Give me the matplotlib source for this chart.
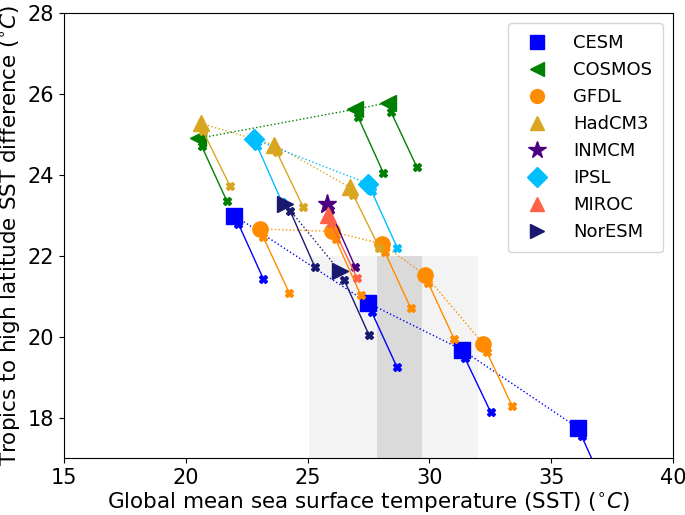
import numpy as np
import matplotlib
matplotlib.use('Agg')
import matplotlib.pyplot as plt
from matplotlib.lines import Line2D

models = ['CESM', 'COSMOS', 'GFDL', 'HadCM3', 'INMCM', 'IPSL', 'MIROC', 'NorESM']
colors = ['#0000ff', 'green', 'darkorange', 'goldenrod', 'indigo', 'deepskyblue', 'tomato', 'midnightblue']
markers = ['s', '<', 'o', '^', '*', 'D', '^', '>']

# big marker positions
mark_x = {
    'CESM': [22.0, 27.49, 31.32, 36.11],
    'COSMOS': [20.51, 26.95, 28.31],
    'GFDL': [23.05, 25.99, 28.04, 29.82, 32.21],
    'HadCM3': [20.62, 23.63, 26.74],
    'INMCM': [25.78],
    'IPSL': [22.80, 27.49],
    'MIROC': [25.85],
    'NorESM': [24.07, 26.33],
}
mark_y = {
    'CESM': [23.0, 20.84, 19.69, 17.75],
    'COSMOS': [24.91, 25.63, 25.79],
    'GFDL': [22.67, 22.61, 22.30, 21.54, 19.83],
    'HadCM3': [25.28, 24.75, 23.70],
    'INMCM': [23.29],
    'IPSL': [24.89, 23.79],
    'MIROC': [23.02],
    'NorESM': [23.29, 21.62],
}
# start of the solid segments
start_x = {
    'CESM': [22.16, 27.63, 31.46, 36.25],
    'COSMOS': [20.65, 27.08, 28.42],
    'GFDL': [23.18, 26.15, 28.18, 29.96, 32.35],
    'HadCM3': [20.70, 23.73, 26.88],
    'INMCM': [25.92],
    'IPSL': [22.94, 27.63],
    'MIROC': [25.95],
    'NorESM': [24.28, 26.51],
}
start_y = {
    'CESM': [22.80, 20.62, 19.48, 17.55],
    'COSMOS': [24.72, 25.43, 25.57],
    'GFDL': [22.47, 22.42, 22.09, 21.33, 19.64],
    'HadCM3': [25.10, 24.58, 23.51],
    'INMCM': [23.14],
    'IPSL': [24.71, 23.60],
    'MIROC': [22.83],
    'NorESM': [23.12, 21.40],
}
# end of the solid segments
end_x = {
    'CESM': [23.18, 28.66, 32.52, 37.27],
    'COSMOS': [21.68, 28.11, 29.48],
    'GFDL': [24.24, 27.18, 29.23, 31.01, 33.40],
    'HadCM3': [21.81, 24.82, 27.95],
    'INMCM': [26.95],
    'IPSL': [23.95, 28.68],
    'MIROC': [27.02],
    'NorESM': [25.30, 27.53],
}
end_y = {
    'CESM': [21.44, 19.27, 18.14, 16.19],
    'COSMOS': [23.37, 24.06, 24.21],
    'GFDL': [21.10, 21.04, 20.72, 19.96, 18.29],
    'HadCM3': [23.74, 23.21, 22.20],
    'INMCM': [21.74],
    'IPSL': [23.33, 22.21],
    'MIROC': [21.47],
    'NorESM': [21.73, 20.04],
}

fig = plt.figure(figsize=(6.85, 5.15), dpi=100)
ax = fig.add_axes([0.0934, 0.110, 0.889, 0.864])

# shaded ranges
ax.fill_between([25.05, 32.0], 15, 22, color='#f3f3f3', zorder=0, lw=0)
ax.fill_between([27.85, 29.7], 15, 22, color='#dadada', zorder=0, lw=0)

z = 2
for m, c, mk in zip(models, colors, markers):
    ms = 14 if mk == '*' else 11
    if mk == 'D':
        ms = 10
    ax.plot(mark_x[m], mark_y[m], ':', color=c, lw=1, zorder=1.5)
    ax.plot(mark_x[m], mark_y[m], linestyle='none', marker=mk, color=c, ms=ms, zorder=z)
    for i in range(len(start_x[m])):
        ax.plot([start_x[m][i], end_x[m][i]], [start_y[m][i], end_y[m][i]], '-', color=c,
                lw=1.0, marker='X', ms=6, zorder=z + 0.5)
    z += 1

ax.set_xlim(15, 40)
ax.set_ylim(17, 28)
ax.set_xticks([15, 20, 25, 30, 35, 40])
ax.set_yticks([18, 20, 22, 24, 26, 28])
ax.tick_params(labelsize=15)
ax.set_xlabel(r'Global mean sea surface temperature (SST) ($^{\circ}C$)', fontsize=15.5, labelpad=2)
ax.set_ylabel(r'Tropics to high latitude SST difference ($^{\circ}C$)', fontsize=15.5, labelpad=3)

handles = []
for m, c, mk in zip(models, colors, markers):
    ms = 13 if mk == '*' else 10
    handles.append(Line2D([], [], linestyle='none', marker=mk, color=c, ms=ms, label=m))
leg = ax.legend(handles=handles, loc='upper right', fontsize=13, borderaxespad=0.55,
                handletextpad=1.0, borderpad=0.6)
leg.set_zorder(20)

fig.savefig('out.png', dpi=100)
